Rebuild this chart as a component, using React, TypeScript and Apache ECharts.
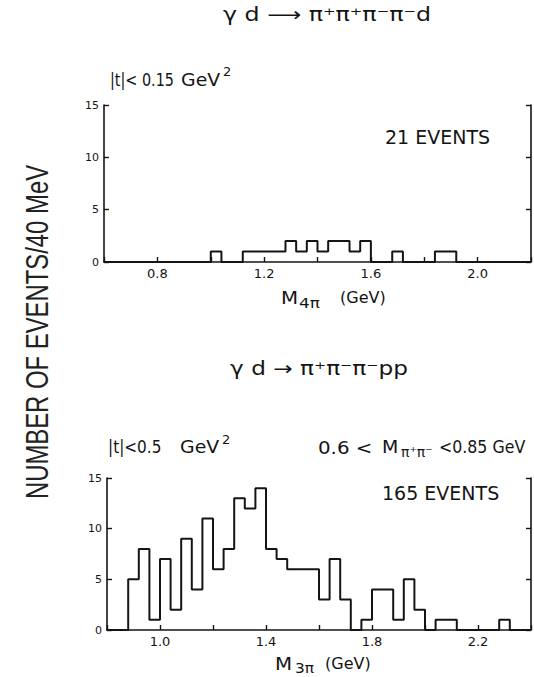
import React, { useEffect, useRef } from "react";
import * as echarts from "echarts";

// Histogram bins are 40 MeV wide
const BIN_WIDTH = 0.04;

// γd → π+π+π−π−d, |t| < 0.15 GeV², counts per bin starting at 0.60 GeV
const fourPiStart = 0.6;
const fourPiCounts = [
  0, 0, 0, 0, 0, 0, 0, 0, 0, 0,
  1, 0, 0, 1, 1, 1, 1, 2, 1, 2,
  1, 2, 2, 1, 2, 0, 0, 1, 0, 0,
  0, 1, 1, 0, 0, 0, 0, 0, 0, 0,
];
const fourPiLabels = ["0.8", "1.2", "1.6", "2.0"];

// γd → π+π−π−pp, |t| < 0.5 GeV², counts per bin starting at 0.80 GeV
const threePiStart = 0.8;
const threePiCounts = [
  0, 0, 5, 8, 1, 7, 2, 9, 4, 11,
  6, 8, 13, 12, 14, 8, 7, 6, 6, 6,
  3, 7, 3, 0, 1, 4, 4, 1, 5, 2,
  0, 1, 1, 0, 0, 0, 0, 1, 0, 0,
];
const threePiLabels = ["1.0", "1.4", "1.8", "2.2"];

const countMax = 15;
const countStep = 5;

const INK = "#141414";
const FONT = "DejaVu Sans";

// Turn bin counts into step-line points: one point per left bin edge, plus the closing edge.
function stepData(start: number, counts: number[]): number[][] {
  const pts = counts.map((c, i) => [+(start + i * BIN_WIDTH).toFixed(2), c]);
  pts.push([+(start + counts.length * BIN_WIDTH).toFixed(2), 0]);
  return pts;
}

function massAxis(gridIndex: number, start: number, count: number, labels: string[]) {
  return {
    type: "value",
    gridIndex,
    min: start,
    max: +(start + count * BIN_WIDTH).toFixed(2),
    interval: 0.2,
    axisLine: { show: true, onZero: false, lineStyle: { color: INK, width: 1.6 } },
    axisTick: { show: true, inside: true, length: 5, lineStyle: { color: INK, width: 1.4 } },
    splitLine: { show: false },
    axisLabel: {
      show: true,
      margin: 5,
      color: INK,
      fontFamily: FONT,
      fontSize: 13,
      showMinLabel: true,
      showMaxLabel: true,
      formatter: (v: number) => {
        const s = Number(v).toFixed(1);
        return labels.includes(s) ? s : "";
      },
    },
  };
}

function countAxis(gridIndex: number, position: "left" | "right") {
  return {
    type: "value",
    gridIndex,
    position,
    min: 0,
    max: countMax,
    interval: countStep,
    axisLine: { show: true, onZero: false, lineStyle: { color: INK, width: 1.6 } },
    axisTick: { show: true, inside: true, length: 5, lineStyle: { color: INK, width: 1.4 } },
    splitLine: { show: false },
    axisLabel: {
      show: position === "left",
      margin: 5,
      color: INK,
      fontFamily: FONT,
      fontSize: 11,
    },
  };
}

function txt(
  x: number,
  y: number,
  text: string,
  fontSize: number,
  extra: Record<string, any> = {}
) {
  const { align = "left", scaleX = 1, rotation = 0, family = FONT, fill = INK } = extra;
  return {
    type: "text",
    x,
    y,
    rotation,
    scaleX,
    silent: true,
    style: {
      text,
      fill,
      fontFamily: family,
      fontSize,
      textAlign: align,
      textVerticalAlign: "middle",
      verticalAlign: "middle",
    },
  };
}

export default function App() {
  const ref = useRef<HTMLDivElement>(null);

  useEffect(() => {
    if (!ref.current) return;
    const chart = echarts.init(ref.current, undefined, { renderer: "svg" });

    const labels = [
      // upper panel
      txt(327, 14, "γ d ⟶ π⁺π⁺π⁻π⁻d", 19, { align: "center", scaleX: 1.25 }),
      txt(110, 80, "|t|< 0.15", 18, { scaleX: 0.8 }),
      txt(181, 80, "GeV", 18, { scaleX: 1.05 }),
      txt(223, 71, "2", 13),
      txt(385, 137, "21 EVENTS", 19),
      txt(281, 297, "M", 18, { scaleX: 1.1 }),
      txt(299, 303, "4π", 14, { scaleX: 1.2 }),
      txt(340, 297, "(GeV)", 16),
      // lower panel
      txt(319, 368, "γ d → π⁺π⁻π⁻pp", 19, { align: "center", scaleX: 1.22 }),
      txt(108, 447, "|t|<0.5", 18, { scaleX: 0.85 }),
      txt(180, 447, "GeV", 18, { scaleX: 1.05 }),
      txt(222, 439, "2", 13),
      txt(318, 447, "0.6 <", 18, { scaleX: 1.1 }),
      txt(382, 447, "M", 18, { scaleX: 1.05 }),
      txt(401, 452, "π⁺π⁻", 14),
      txt(439, 447, "<0.85 GeV", 17, { scaleX: 0.93 }),
      txt(382, 493, "165 EVENTS", 19),
      txt(275, 663, "M", 18, { scaleX: 1.1 }),
      txt(295, 668, "3π", 14, { scaleX: 1.1 }),
      txt(325, 663, "(GeV)", 16),
      // shared vertical axis title
      txt(37, 332, "NUMBER OF EVENTS/40 MeV", 31, {
        align: "center",
        rotation: Math.PI / 2,
        scaleX: 0.77,
        family: "Liberation Sans",
        fill: "#222",
      }),
    ];

    chart.setOption({
      animation: false,
      backgroundColor: "#ffffff",
      grid: [
        { left: 104, top: 105, width: 428, height: 157, containLabel: false },
        { left: 107, top: 478, width: 426, height: 152, containLabel: false },
      ],
      xAxis: [
        massAxis(0, fourPiStart, fourPiCounts.length, fourPiLabels),
        massAxis(1, threePiStart, threePiCounts.length, threePiLabels),
      ],
      yAxis: [countAxis(0, "left"), countAxis(0, "right"), countAxis(1, "left"), countAxis(1, "right")],
      series: [
        {
          type: "line",
          xAxisIndex: 0,
          yAxisIndex: 0,
          step: "end",
          showSymbol: false,
          silent: true,
          lineStyle: { color: INK, width: 2 },
          data: stepData(fourPiStart, fourPiCounts),
        },
        {
          type: "line",
          xAxisIndex: 1,
          yAxisIndex: 2,
          step: "end",
          showSymbol: false,
          silent: true,
          lineStyle: { color: INK, width: 2 },
          data: stepData(threePiStart, threePiCounts),
        },
      ],
      graphic: { elements: labels },
    });

    return () => chart.dispose();
  }, []);

  return (
    <div
      ref={ref}
      style={{ position: "fixed", left: 0, top: 0, width: 534, height: 677, background: "#fff" }}
    />
  );
}
